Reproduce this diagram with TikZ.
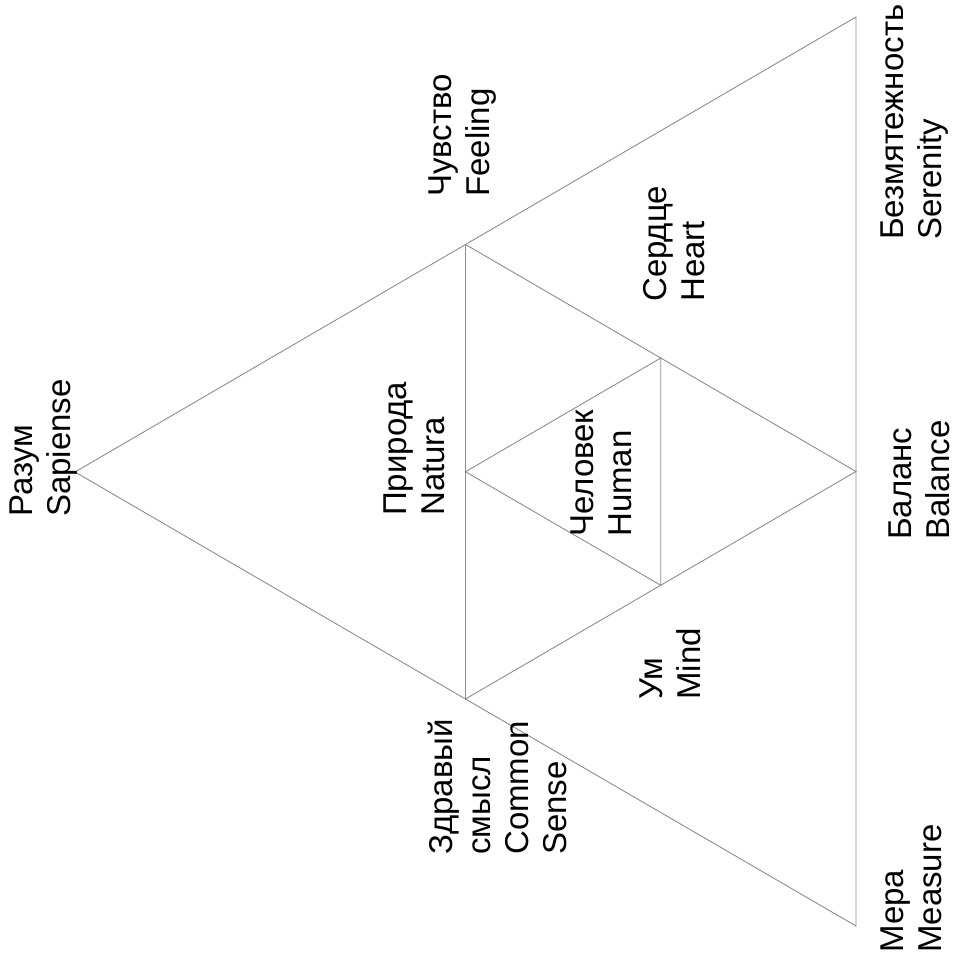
\documentclass[tikz,border=0pt]{standalone}
\usepackage{fontspec}
\setmainfont{Liberation Sans}
\usetikzlibrary{calc}
\begin{document}
\begin{tikzpicture}[x=1pt,y=1pt,
  edge/.style={draw=black!45,line width=0.9pt},
  lbl/.style={rotate=90,anchor=north west,inner sep=0pt,align=left,
    font=\fontsize{33}{38}\selectfont}]
\useasboundingbox (0,0) rectangle (955,-970);
% outer triangle
\coordinate (A) at (75,-472);
\coordinate (B) at (856,-17);
\coordinate (C) at (856,-926);
% midpoints
\coordinate (AB) at ($(A)!0.5!(B)$);
\coordinate (AC) at ($(A)!0.5!(C)$);
\coordinate (BC) at ($(B)!0.5!(C)$);
% inner midpoints
\coordinate (M1) at ($(AB)!0.5!(AC)$);
\coordinate (M2) at ($(AB)!0.5!(BC)$);
\coordinate (M3) at ($(AC)!0.5!(BC)$);
\draw[edge] (A) -- (B) -- (C) -- cycle;
\draw[edge] (AB) -- (AC) -- (BC) -- cycle;
\draw[edge] (M1) -- (M2) -- (M3) -- cycle;
% labels
\node[lbl] (razum) at (10,-517) {Разум\\Sapiense};
\node[lbl] (chuv) at (429,-197) {Чувство\\Feeling};
\node[lbl] (bezm) at (881,-240) {Безмятежность\\Serenity};
\node[lbl] (serd) at (643,-302) {Сердце\\Heart};
\node[lbl] (prir) at (384,-516) {Природа\\Natura};
\node[lbl] (chel) at (571,-537) {Человек\\Human};
\node[lbl] (um) at (640,-700) {Ум\\Mind};
\node[lbl] (zdr) at (428,-855) {Здравый\\смысл\\Common\\Sense};
\node[lbl] (bal) at (889,-540) {Баланс\\Balance};
\node[lbl] (mera) at (881,-953) {Мера\\Measure};
\end{tikzpicture}
\end{document}
